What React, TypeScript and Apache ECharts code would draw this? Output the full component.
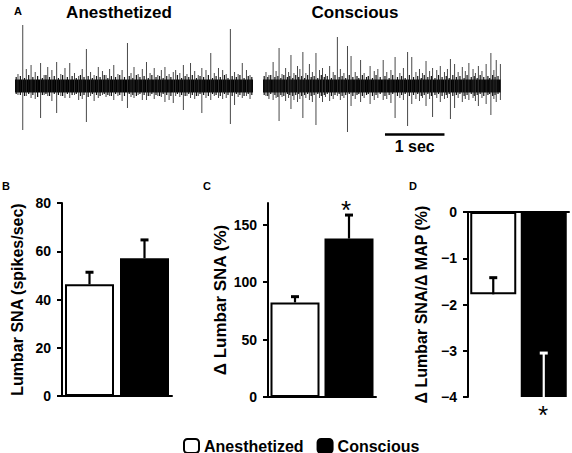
import { useEffect, useRef } from 'react';
import * as echarts from 'echarts';

const FONT = "'Liberation Sans', Arial, Helvetica, sans-serif";

const conditions = ['Anesthetized', 'Conscious'];

// Panel A: neurogram spikes, [time (s), upward amplitude, downward amplitude]
const traceDuration = 4;
const noiseBand = 6.5;
const anesthetizedSpikes = [
  [0.05, 12, 9], [0.13, 61, 44], [0.19, 17, 10], [0.27, 21, 12], [0.34, 14, 13],
  [0.43, 23, 32], [0.49, 11, 9], [0.55, 19, 10], [0.62, 16, 15], [0.70, 24, 27],
  [0.77, 12, 10], [0.84, 18, 12], [0.92, 23, 12], [1.00, 13, 9], [1.07, 10, 14],
  [1.13, 17, 13], [1.20, 37, 36], [1.27, 14, 10], [1.33, 11, 15], [1.40, 19, 12],
  [1.47, 15, 9], [1.53, 11, 11], [1.59, 17, 10], [1.66, 21, 14], [1.73, 12, 10],
  [1.80, 16, 15], [1.89, 43, 22], [1.95, 13, 11], [2.00, 19, 12], [2.07, 12, 9],
  [2.14, 17, 14], [2.21, 24, 14], [2.27, 13, 10], [2.34, 18, 13], [2.40, 11, 10],
  [2.46, 16, 11], [2.52, 19, 16], [2.59, 12, 14], [2.66, 14, 17], [2.70, 16, 10],
  [2.77, 13, 11], [2.83, 21, 24], [2.89, 12, 10], [2.95, 23, 12], [3.02, 15, 13],
  [3.08, 11, 10], [3.14, 18, 27], [3.21, 16, 12], [3.29, 33, 14], [3.35, 13, 10],
  [3.42, 18, 12], [3.49, 16, 13], [3.55, 12, 12], [3.62, 57, 38], [3.69, 14, 19],
  [3.75, 12, 11], [3.82, 23, 12], [3.89, 16, 10], [3.95, 11, 13],
];
const anesthetizedFine = [
  [0.02, 9, 8], [0.09, 10, 9], [0.16, 8, 10], [0.23, 11, 8], [0.30, 9, 9],
  [0.38, 10, 11], [0.46, 8, 9], [0.52, 11, 8], [0.58, 9, 10], [0.66, 10, 8],
  [0.73, 8, 9], [0.80, 11, 10], [0.88, 9, 8], [0.96, 10, 9], [1.03, 8, 8],
  [1.10, 11, 10], [1.16, 9, 9], [1.23, 10, 11], [1.30, 8, 8], [1.37, 10, 9],
  [1.43, 9, 10], [1.50, 11, 8], [1.56, 8, 9], [1.62, 10, 10], [1.69, 9, 8],
  [1.76, 11, 9], [1.84, 9, 10], [1.92, 10, 8], [1.98, 8, 9], [2.04, 11, 10],
  [2.10, 9, 8], [2.17, 10, 9], [2.24, 8, 10], [2.30, 11, 8], [2.37, 9, 9],
  [2.43, 10, 10], [2.49, 8, 8], [2.55, 10, 9], [2.62, 9, 10], [2.73, 11, 8],
  [2.80, 8, 9], [2.86, 10, 10], [2.92, 9, 8], [2.98, 11, 9], [3.05, 8, 10],
  [3.11, 10, 8], [3.17, 9, 9], [3.25, 11, 10], [3.32, 8, 8], [3.38, 10, 9],
  [3.45, 9, 10], [3.52, 11, 8], [3.58, 8, 9], [3.65, 10, 10], [3.72, 9, 8],
  [3.78, 11, 9], [3.85, 8, 10], [3.92, 10, 8], [3.98, 9, 9],
];
const consciousSpikes = [
  [0.05, 14, 10], [0.10, 11, 13], [0.17, 24, 14], [0.22, 15, 12], [0.27, 38, 35],
  [0.32, 12, 11], [0.38, 18, 15], [0.43, 14, 12], [0.47, 31, 23], [0.52, 13, 14],
  [0.58, 20, 16], [0.62, 17, 13], [0.67, 34, 32], [0.72, 13, 12], [0.78, 22, 14],
  [0.83, 14, 16], [0.89, 33, 39], [0.95, 16, 12], [1.00, 18, 16], [1.05, 12, 11],
  [1.12, 20, 15], [1.18, 14, 13], [1.25, 49, 10], [1.30, 17, 14], [1.36, 13, 12],
  [1.42, 40, 46], [1.48, 30, 20], [1.55, 14, 13], [1.64, 26, 16], [1.70, 13, 12],
  [1.80, 20, 18], [1.87, 15, 14], [1.93, 17, 12], [2.02, 26, 14], [2.08, 14, 13],
  [2.15, 16, 17], [2.22, 29, 32], [2.30, 13, 12], [2.36, 18, 14], [2.43, 34, 40],
  [2.50, 29, 18], [2.57, 14, 13], [2.63, 17, 15], [2.68, 13, 12], [2.74, 25, 20],
  [2.80, 15, 13], [2.85, 18, 31], [2.92, 16, 12], [2.98, 20, 16], [3.05, 14, 13],
  [3.10, 17, 12], [3.15, 27, 33], [3.22, 22, 22], [3.28, 14, 12], [3.35, 19, 16],
  [3.40, 15, 13], [3.46, 23, 14], [3.53, 17, 12], [3.57, 13, 15], [3.62, 20, 20],
  [3.68, 15, 12], [3.75, 22, 18], [3.83, 33, 29], [3.88, 16, 13], [3.92, 26, 16],
  [3.99, 22, 14],
];
const consciousFine = [
  [0.02, 10, 9], [0.08, 9, 10], [0.13, 11, 8], [0.20, 9, 9], [0.25, 10, 11],
  [0.30, 8, 9], [0.35, 11, 10], [0.41, 9, 8], [0.45, 10, 9], [0.50, 8, 10],
  [0.55, 11, 9], [0.60, 9, 8], [0.65, 10, 10], [0.70, 8, 9], [0.75, 11, 8],
  [0.81, 9, 10], [0.86, 10, 9], [0.92, 8, 8], [0.98, 11, 10], [1.03, 9, 9],
  [1.08, 10, 8], [1.15, 8, 10], [1.21, 11, 9], [1.28, 9, 8], [1.33, 10, 10],
  [1.39, 8, 9], [1.45, 11, 8], [1.51, 9, 10], [1.58, 10, 9], [1.61, 8, 8],
  [1.67, 11, 10], [1.74, 9, 9], [1.77, 10, 8], [1.84, 8, 10], [1.90, 11, 9],
  [1.97, 9, 8], [2.05, 10, 10], [2.12, 8, 9], [2.18, 11, 8], [2.26, 9, 10],
  [2.33, 10, 9], [2.39, 8, 8], [2.46, 11, 10], [2.53, 9, 9], [2.60, 10, 8],
  [2.66, 8, 10], [2.71, 11, 9], [2.77, 9, 8], [2.83, 10, 10], [2.89, 8, 9],
  [2.95, 11, 8], [3.01, 9, 10], [3.08, 10, 9], [3.13, 8, 8], [3.19, 11, 10],
  [3.25, 9, 9], [3.31, 10, 8], [3.38, 8, 10], [3.43, 11, 9], [3.50, 9, 8],
  [3.55, 10, 10], [3.60, 8, 9], [3.65, 11, 8], [3.71, 9, 10], [3.78, 10, 9],
  [3.81, 8, 8], [3.86, 11, 10], [3.90, 9, 9], [3.95, 10, 8],
];
const scaleBarStart = 2.05;
const scaleBarLength = 1;
const scaleBarLevel = -48;

// Panel B: Lumbar SNA (spikes/sec)
const snaRate = [46.3, 57.1];
const snaRateErr = [5.0, 7.6];
const snaRateTicks = [0, 20, 40, 60, 80];
// Panel C: Δ Lumbar SNA (%)
const snaPct = [82.4, 138];
const snaPctErr = [5.0, 20.5];
const snaPctTicks = [0, 50, 100, 150];
const snaPctAxisMax = 169;
// Panel D: Δ Lumbar SNA/Δ MAP (%)
const snaMapRatio = [-1.78, -4.0];
const snaMapRatioErr = [0.36, 0.95];
const snaMapTicks = [-4, -3, -2, -1, 0];

const AXIS_W = 2;

function spikeSeries(idx: number, spikes: number[][], color: string, width: number, z: number) {
  return {
    type: 'custom',
    xAxisIndex: idx,
    yAxisIndex: idx,
    silent: true,
    z,
    data: spikes,
    renderItem: (_p: any, api: any) => {
      const t = api.value(0);
      const a = api.coord([t, api.value(1)]);
      const b = api.coord([t, -api.value(2)]);
      return {
        type: 'line',
        shape: { x1: a[0], y1: a[1], x2: b[0], y2: b[1] },
        style: { stroke: color, lineWidth: width },
      };
    },
  };
}

function traceSeries(idx: number, spikes: number[][], fine: number[][], withScale: boolean) {
  const band: any = {
    type: 'custom',
    xAxisIndex: idx,
    yAxisIndex: idx,
    silent: true,
    z: 2,
    data: [[0, traceDuration, noiseBand]],
    renderItem: (_p: any, api: any) => {
      const a = api.coord([api.value(0), api.value(2)]);
      const b = api.coord([api.value(1), -api.value(2)]);
      return {
        type: 'rect',
        shape: { x: a[0], y: a[1], width: b[0] - a[0], height: b[1] - a[1] },
        style: { fill: '#000' },
      };
    },
  };
  if (withScale) {
    band.markLine = {
      silent: true,
      symbol: ['none', 'none'],
      lineStyle: { color: '#000', width: 2.5, type: 'solid' },
      label: {
        show: true,
        position: 'insideMiddleBottom',
        formatter: '1 sec',
        color: '#000',
        fontFamily: FONT,
        fontWeight: 'bold',
        fontSize: 16,
        distance: 4,
      },
      data: [[
        { coord: [scaleBarStart, scaleBarLevel] },
        { coord: [scaleBarStart + scaleBarLength, scaleBarLevel] },
      ]],
    };
  }
  return [
    band,
    spikeSeries(idx, fine, '#111', 1.2, 3),
    spikeSeries(idx, spikes, '#333', 0.9, 4),
  ];
}

function barPanel(idx: number, values: number[], errs: number[], errColors: string[], barWidth: number) {
  const white = {
    name: conditions[0],
    type: 'bar',
    xAxisIndex: idx,
    yAxisIndex: idx,
    barWidth,
    barGap: '-100%',
    data: [values[0], '-'],
    itemStyle: { color: '#fff', borderColor: '#000', borderWidth: 2 },
    z: 2,
  };
  const black = {
    name: conditions[1],
    type: 'bar',
    xAxisIndex: idx,
    yAxisIndex: idx,
    barWidth,
    barGap: '-100%',
    data: ['-', values[1]],
    itemStyle: { color: '#000', borderColor: '#000', borderWidth: 2 },
    z: 2,
  };
  const err = {
    type: 'custom',
    xAxisIndex: idx,
    yAxisIndex: idx,
    silent: true,
    z: 5,
    data: values.map((v, i) => [i, v, v + errs[i], i]),
    renderItem: (_p: any, api: any) => {
      const i = api.value(0);
      const p0 = api.coord([i, api.value(1)]);
      const p1 = api.coord([i, api.value(2)]);
      const c = errColors[api.value(3)];
      return {
        type: 'group',
        children: [
          { type: 'line', shape: { x1: p0[0], y1: p0[1], x2: p1[0], y2: p1[1] }, style: { stroke: c, lineWidth: 2.2 } },
          { type: 'line', shape: { x1: p1[0] - 4, y1: p1[1], x2: p1[0] + 4, y2: p1[1] }, style: { stroke: c, lineWidth: 3 } },
        ],
      };
    },
  };
  return [white, black, err];
}

const catAxis = (gi: number, pos: 'bottom' | 'top') => ({
  type: 'category',
  gridIndex: gi,
  data: conditions,
  position: pos,
  axisLine: { show: true, onZero: false, lineStyle: { color: '#000', width: AXIS_W } },
  axisTick: { show: false },
  axisLabel: { show: false },
  splitLine: { show: false },
});

const valAxis = (gi: number, min: number, max: number, interval: number, ticks: number[], name: string, nameSize: number, nameGap: number) => ({
  type: 'value',
  gridIndex: gi,
  min,
  max,
  interval,
  name,
  nameLocation: 'middle',
  nameGap,
  nameTextStyle: { color: '#000', fontFamily: FONT, fontWeight: 'bold', fontSize: nameSize },
  axisLine: { show: true, onZero: false, lineStyle: { color: '#000', width: AXIS_W } },
  axisTick: { show: true, length: 5, lineStyle: { color: '#000', width: AXIS_W }, customValues: ticks },
  axisLabel: {
    color: '#000',
    fontFamily: FONT,
    fontWeight: 'bold',
    fontSize: 14,
    margin: 11,
    customValues: ticks,
    formatter: (v: number) => (v < 0 ? '\u2212' + Math.abs(v) : String(v)),
  },
  splitLine: { show: false },
});

const hiddenVal = (gi: number, min: number, max: number) => ({
  type: 'value', gridIndex: gi, min, max, show: false, splitLine: { show: false },
});

const txt = (text: string, x: number, y: number, size: number, weight = 'bold', align = 'left') => ({
  type: 'text',
  x,
  y,
  silent: true,
  style: { text, fill: '#000', fontFamily: FONT, fontWeight: weight, fontSize: size, align, verticalAlign: 'middle' },
});

export default function App() {
  const ref = useRef<HTMLDivElement>(null);
  useEffect(() => {
    if (!ref.current) return;
    const chart = echarts.init(ref.current, null, { renderer: 'svg' });
    chart.setOption({
      animation: false,
      backgroundColor: '#fff',
      grid: [
        { left: 15, top: 21, width: 238, height: 115 },
        { left: 263, top: 21, width: 238, height: 115 },
        { left: 62, top: 203, width: 110, height: 193 },
        { left: 268, top: 203, width: 108, height: 194 },
        { left: 468, top: 212, width: 101, height: 185 },
      ],
      xAxis: [
        hiddenVal(0, 0, traceDuration),
        hiddenVal(1, 0, traceDuration),
        catAxis(2, 'bottom'),
        catAxis(3, 'bottom'),
        catAxis(4, 'top'),
      ],
      yAxis: [
        hiddenVal(0, -50, 65),
        hiddenVal(1, -50, 65),
        valAxis(2, 0, 80, 20, snaRateTicks, 'Lumbar SNA (spikes/sec)', 16, 37),
        valAxis(3, 0, snaPctAxisMax, 50, snaPctTicks, '\u0394 Lumbar SNA (%)', 17, 39),
        valAxis(4, -4, 0, 1, snaMapTicks, '\u0394 Lumbar SNA/\u0394 MAP (%)', 16, 39),
      ],
      legend: {
        left: 178,
        top: 433,
        itemWidth: 15,
        itemHeight: 14,
        itemGap: 13,
        selectedMode: false,
        data: conditions,
        textStyle: { color: '#000', fontFamily: FONT, fontWeight: 'bold', fontSize: 16 },
      },
      graphic: [
        txt('A', 14, 11, 11),
        txt('Anesthetized', 119, 12, 17, 'bold', 'center'),
        txt('Conscious', 355, 12, 17, 'bold', 'center'),
        txt('B', 2, 186, 11),
        txt('C', 203, 186, 11),
        txt('D', 409, 186, 11),
        txt('*', 346, 210, 26, 'normal', 'center'),
        txt('*', 543, 415, 26, 'normal', 'center'),
      ],
      series: [
        ...traceSeries(0, anesthetizedSpikes, anesthetizedFine, false),
        ...traceSeries(1, consciousSpikes, consciousFine, true),
        ...barPanel(2, snaRate, snaRateErr, ['#000', '#000'], 49),
        ...barPanel(3, snaPct, snaPctErr, ['#000', '#000'], 49),
        ...barPanel(4, snaMapRatio, snaMapRatioErr, ['#000', '#fff'], 46),
      ],
    });
    return () => chart.dispose();
  }, []);
  return <div ref={ref} style={{ position: 'absolute', left: 0, top: 0, width: 572, height: 453 }} />;
}
